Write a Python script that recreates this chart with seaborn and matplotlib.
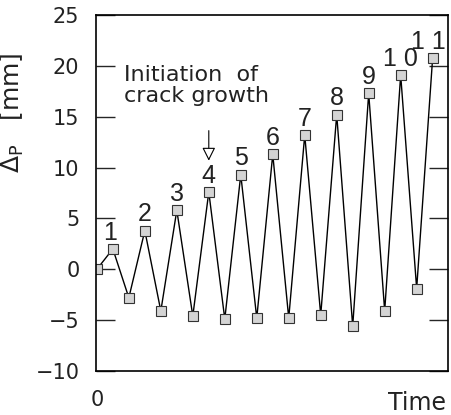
import matplotlib
matplotlib.use('Agg')
import matplotlib.pyplot as plt
import numpy as np
import pandas as pd
import seaborn as sb

# load history
timeSteps = list(range(22))
deltaP = [0, 2.0, -2.8, 3.8, -4.1, 5.8, -4.6, 7.6, -4.9, 9.3, -4.8, 11.3,
          -4.8, 13.2, -4.5, 15.2, -5.6, 17.3, -4.1, 19.1, -1.9, 20.8]
peakLabels = ['1', '2', '3', '4', '5', '6', '7', '8', '9', '1 0', '1 1']
peakIdx = [1, 3, 5, 7, 9, 11, 13, 15, 17, 19, 21]
yTicks = [-10, -5, 0, 5, 10, 15, 20, 25]

df = pd.DataFrame({'time': timeSteps, 'delta': deltaP})

sb.set_style('ticks')
plt.rcParams['font.family'] = ['DejaVu Sans']
plt.rcParams['mathtext.fontset'] = 'dejavusans'

textColor = '#222222'

fig = plt.figure(figsize=(4.51, 4.15), dpi=100)
ax = fig.add_axes([0.213, 0.106, 0.78, 0.858])

sb.lineplot(data=df, x='time', y='delta', ax=ax, color='black', lw=1.0,
            marker='s', markersize=7, markerfacecolor='#d4d4d4',
            markeredgecolor='#333333', markeredgewidth=0.8)

for ii in range(len(peakIdx)):
    xOff = 0
    if ii == 0:
        xOff = -2
    if ii == len(peakIdx) - 1:
        xOff = -3
    ax.annotate(peakLabels[ii], (timeSteps[peakIdx[ii]], deltaP[peakIdx[ii]]),
                xytext=(xOff, 3), textcoords='offset points', ha='center', va='bottom',
                fontsize=18, color=textColor, family=['Liberation Sans', 'DejaVu Sans'])

ax.text(1.7, 20.1, 'Initiation  of\ncrack growth', fontsize=16, color=textColor,
        ha='left', va='top', linespacing=1.1)
ax.annotate('', xy=(7.0, 10.4), xytext=(7.0, 13.9),
            arrowprops=dict(arrowstyle='-|>', fc='white', ec='black', lw=0.8,
                            mutation_scale=20))

ax.set_xlim(-0.05, 21.95)
ax.set_ylim(-10, 25)
ax.set_yticks(yTicks)
ax.set_yticklabels([str(v).replace('-', '\u2212') for v in yTicks], fontsize=15, color=textColor)
ax.tick_params(axis='y', direction='in', length=14, width=1, pad=12, right=True, left=True)
ax.set_xticks([0])
ax.set_xticklabels(['0'], fontsize=15, color=textColor)
ax.tick_params(axis='x', length=0, pad=14)
ax.set_xlabel('Time', fontsize=17, color=textColor, ha='right')
ax.xaxis.set_label_coords(0.995, -0.055, transform=ax.transAxes)
ax.xaxis.label.set_va('top')
ax.set_ylabel(r'$\Delta_{\rm P}$   [mm]', fontsize=18, color=textColor)
ax.yaxis.set_label_coords(-0.2, 0.725)

for sp in ax.spines.values():
    sp.set_linewidth(1.2)
    sp.set_color('black')

fig.savefig('out.png', dpi=100)
plt.close()
